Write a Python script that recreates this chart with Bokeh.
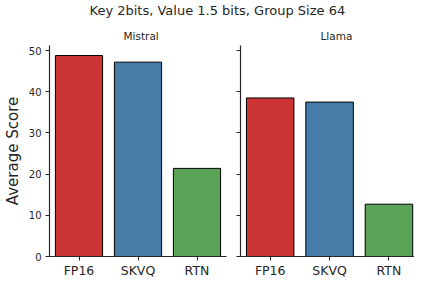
from bokeh.plotting import figure
from bokeh.layouts import column, row
from bokeh.models import Range1d, FixedTicker, ColumnDataSource
from bokeh.embed import file_html
from bokeh.resources import INLINE

suptitle = "Key 2bits, Value 1.5 bits, Group Size 64"
methods = ["FP16", "SKVQ", "RTN"]
bar_colors = ["#cb3335", "#477ca8", "#59a256"]
mistral_scores = [48.8, 47.2, 21.4]
llama_scores = [38.5, 37.5, 12.7]
y_ticks = [0, 10, 20, 30, 40, 50]

FONT = "DejaVu Sans"
INK = "#262626"
PANEL_H = 260


def style_axis(ax):
    ax.axis_line_color = INK
    ax.axis_line_width = 1.2
    ax.major_tick_line_color = INK
    ax.major_tick_line_width = 1.1
    ax.major_tick_out = 4
    ax.major_tick_in = 0
    ax.minor_tick_line_color = None
    ax.axis_label = None


def panel(name, scores, width, mb_left, mb_right, x_end, first, title_offset):
    p = figure(width=width, height=PANEL_H,
               x_range=Range1d(-0.5, x_end), y_range=Range1d(0, 51.24),
               toolbar_location=None, output_backend="svg",
               min_border_left=mb_left, min_border_right=mb_right,
               min_border_top=25, min_border_bottom=20)
    p.title.text = name
    p.title.text_font = FONT
    p.title.text_font_size = "10.5px"
    p.title.text_font_style = "normal"
    p.title.text_color = INK
    p.title.align = "left"
    p.title.offset = title_offset
    p.title.standoff = 8
    xs = list(range(len(methods)))
    src = ColumnDataSource(dict(x=xs, top=scores, color=bar_colors))
    p.vbar(x="x", top="top", bottom=0, width=0.8, fill_color="color",
           line_color="black", line_width=1, source=src)
    p.xgrid.visible = False
    p.ygrid.visible = False
    p.outline_line_color = None
    p.background_fill_color = "white"
    p.border_fill_color = "white"

    xa = p.xaxis[0]
    ya = p.yaxis[0]
    style_axis(xa)
    style_axis(ya)
    xa.ticker = FixedTicker(ticks=xs)
    xa.major_label_overrides = {i: m for i, m in enumerate(methods)}
    xa.major_label_text_font = FONT
    xa.major_label_text_font_size = "12.5px"
    xa.major_label_text_color = INK
    xa.major_label_standoff = 2
    if first:
        ya.ticker = FixedTicker(ticks=y_ticks)
        ya.major_label_text_font = FONT
        ya.major_label_text_font_size = "10px"
        ya.major_label_text_color = INK
        ya.major_label_standoff = 4
        ya.axis_label = "Average Score"
        ya.axis_label_text_font = FONT
        ya.axis_label_text_font_size = "15px"
        ya.axis_label_text_font_style = "normal"
        ya.axis_label_text_color = INK
        ya.axis_label_standoff = 4
    else:
        # shared y axis: tick marks without labels
        ya.ticker = FixedTicker(ticks=[], minor_ticks=y_ticks)
        ya.minor_tick_line_color = INK
        ya.minor_tick_line_width = 1.1
        ya.minor_tick_out = 4
        ya.minor_tick_in = 0
        ya.major_label_standoff = 0
    return p


p1 = panel("Mistral", mistral_scores, 233, 48, 7, 2.5, True, 74)
p2 = panel("Llama", llama_scores, 181, 7, 0, 2.43, False, 80)

top = figure(width=414, height=20, toolbar_location=None, output_backend="svg",
             min_border=0, min_border_top=2,
             x_range=Range1d(0, 1), y_range=Range1d(0, 1))
top.title.text = suptitle
top.title.text_font = FONT
top.title.text_font_size = "13px"
top.title.text_font_style = "normal"
top.title.text_color = INK
top.title.align = "left"
top.title.offset = 89
top.title.standoff = 0
top.xaxis.visible = False
top.yaxis.visible = False
top.xgrid.visible = False
top.ygrid.visible = False
top.outline_line_color = None

layout = column(top, row(p1, p2))
open("out.html", "w").write(file_html(layout, INLINE))
